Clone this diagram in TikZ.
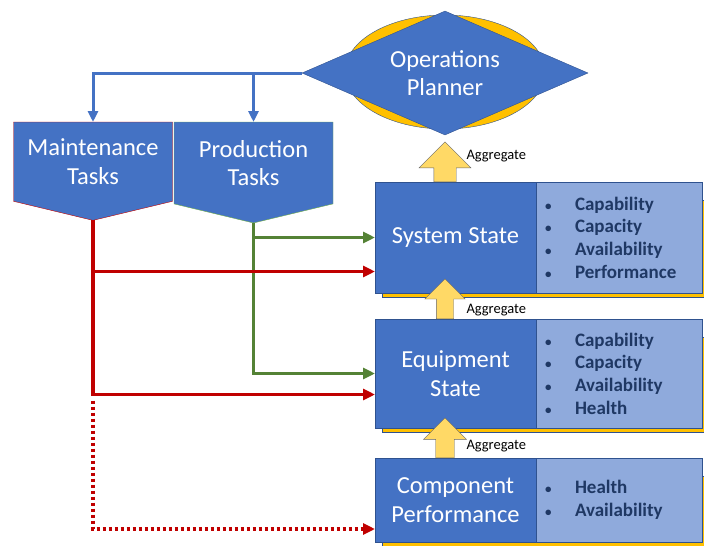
\documentclass[tikz,border=0pt]{standalone}
\usepackage{fontspec}
\setmainfont{Carlito}
\usetikzlibrary{positioning, arrows.meta, shapes.geometric, shapes.symbols, shapes.arrows, backgrounds}

\definecolor{boxblue}{HTML}{4472C4}
\definecolor{infoblue}{HTML}{8FAADC}
\definecolor{edgeblue}{HTML}{2F528F}
\definecolor{navy}{HTML}{1F3864}
\definecolor{gold}{HTML}{FFC000}
\definecolor{pale}{HTML}{FFD966}
\definecolor{maintred}{HTML}{C00000}
\definecolor{prodgreen}{HTML}{548235}
\definecolor{lightgreen}{HTML}{70AD47}

\newcommand{\stateitem}[1]{\makebox[30pt][l]{\fontsize{13}{13}\selectfont\textbullet}#1}

\begin{document}
\begin{tikzpicture}[x=1pt, y=-1pt,
        bigtext/.style={font=\fontsize{24.5}{28.5}\selectfont, text=white, align=center},
        task/.style={draw, signal, signal to=south, signal pointer angle=153, minimum width=159pt, minimum height=95pt, fill=boxblue, inner sep=0pt, outer sep=0pt, bigtext},
        state/.style={draw=edgeblue, fill=boxblue, minimum width=161pt, inner sep=0pt, outer sep=0pt, bigtext},
        info/.style={draw=edgeblue, fill=infoblue, text width=148pt, inner xsep=9pt, inner ysep=0pt, outer sep=0pt, align=left, text=navy, font=\fontsize{19}{22.7}\selectfont\bfseries},
        layer/.style={draw=edgeblue, fill=gold},
        flowup/.style={single arrow, draw=gray!80!black, fill=pale, rotate=90, inner xsep=0pt, inner ysep=8.5pt, minimum height=40pt, single arrow head extend=11.5pt, anchor=tail},
        agg/.style={font=\fontsize{14.5}{16}\selectfont, anchor=west},
        plan/.style={draw=boxblue, line width=3pt, -{Triangle[length=11pt, width=10pt]}},
        maintflow/.style={draw=maintred, line width=3.5pt, -{Triangle[length=12pt, width=11pt]}},
        prodflow/.style={draw=prodgreen, line width=3.5pt, -{Triangle[length=12pt, width=11pt]}}
    ]
        \useasboundingbox (0,0) rectangle (704,546);

        % planner on top of the golden ring
        \node[draw=edgeblue, fill=gold, ellipse, minimum width=200pt, minimum height=114pt] (ring) at (445,72) {};
        \node[draw=edgeblue, fill=boxblue, diamond, aspect=2.3, minimum width=286pt, minimum height=124pt, inner sep=0pt, bigtext] (planner) at (445,73) {Operations\\Planner};

        \node[task, draw=maintred, anchor=north] (maint) at (93,122) {Maintenance\\Tasks};
        \node[task, draw=lightgreen, anchor=north] (prod) at (253.5,122) {Production\\Tasks};

        % state levels
        \node[state, minimum height=111pt, anchor=north west] (sys) at (375,182) {System State};
        \node[info, minimum height=111pt, anchor=west] (sysinfo) at (sys.east) {%
            \stateitem{Capability}\\ \stateitem{Capacity}\\ \stateitem{Availability}\\ \stateitem{Performance}};

        \node[state, minimum height=109pt, anchor=north west] (equip) at (375,319) {Equipment\\State};
        \node[info, minimum height=109pt, anchor=west] (equipinfo) at (equip.east) {%
            \stateitem{Capability}\\ \stateitem{Capacity}\\ \stateitem{Availability}\\ \stateitem{Health}};

        \node[state, minimum height=84pt, anchor=north west] (comp) at (375,458) {Component\\Performance};
        \node[info, minimum height=84pt, anchor=west] (compinfo) at (comp.east) {%
            \stateitem{Health}\\ \stateitem{Availability}};

        \begin{scope}[on background layer]
            \foreach \s in {sys,equip,comp}
                \draw[layer] ([xshift=7pt, yshift=-18pt]\s.north west) rectangle ([xshift=3pt, yshift=-4pt]\s info.south east);
        \end{scope}

        % aggregation arrows
        \node[flowup, minimum width=52pt] (up1) at (planner.center |- sys.north) {};
        \node[flowup, minimum width=39pt] (up2) at (planner.center |- equip.north) {};
        \node[flowup, minimum width=43pt] (up3) at (planner.center |- comp.north) {};
        \node[agg] (agg1) at (463,156) {Aggregate};
        \node[agg] (agg2) at (463,310) {Aggregate};
        \node[agg] (agg3) at (463,446) {Aggregate};

        \draw[plan] (planner.west) -| (maint.north);
        \draw[plan] (planner.west -| prod.north) -- (prod.north);

        \draw[prodflow] (prod.south) |- (equip.west);
        \draw[prodflow] (prod.south |- sys.west) -- (sys.west);
        \draw[maintflow] (maint.south) |- ([yshift=-21pt]equip.west);
        \draw[maintflow] ([yshift=-34pt]sys.west -| maint.south) -- ([yshift=-34pt]sys.west);
        \draw[maintflow, dash pattern=on 3pt off 3pt] ([yshift=-27pt]equip.west -| maint.south) |- ([yshift=-29pt]comp.west);

    \end{tikzpicture}
\end{document}
